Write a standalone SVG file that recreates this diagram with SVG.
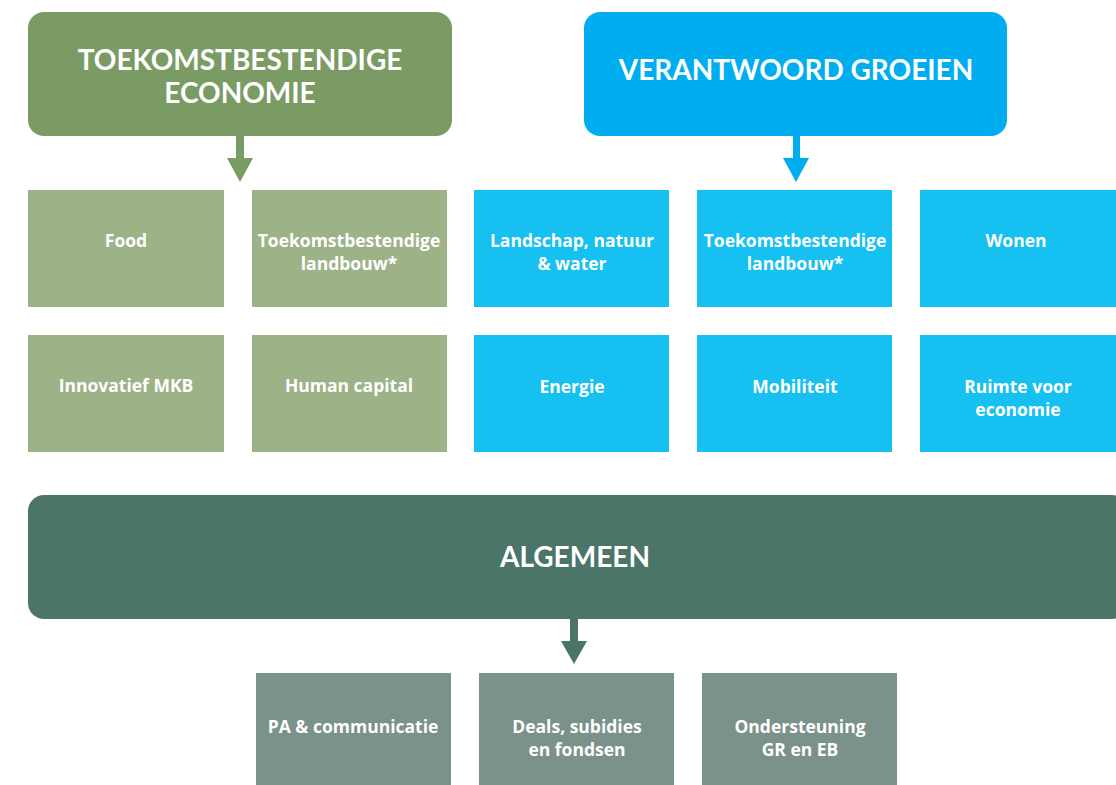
<svg xmlns="http://www.w3.org/2000/svg" width="1116" height="785" viewBox="0 0 1116 785">
<style>
text{font-family:Lato,"Open Sans","Liberation Sans",sans-serif;font-weight:700;fill:#fff;text-anchor:middle}
.h{font-size:28px}
.t{font-family:"Open Sans",Lato,"Liberation Sans",sans-serif;font-size:17.5px}
.g1{fill:#7A9B63}.g2{fill:#9DB287}.b1{fill:#00AEEF}.b2{fill:#16C0F1}.d1{fill:#4A7568}.d2{fill:#7A928A}
</style>
<rect width="1116" height="785" fill="#fff"/>
<g id="hdr-toekomst">
<rect class="g1" x="28" y="12" width="424" height="124" rx="16"/>
<text class="h" x="240" y="70">TOEKOMSTBESTENDIGE</text>
<text class="h" x="240" y="103">ECONOMIE</text>
</g>
<g id="hdr-verantwoord">
<rect class="b1" x="584" y="12" width="423" height="124" rx="16"/>
<text class="h" x="796" y="80">VERANTWOORD GROEIEN</text>
</g>
<g id="hdr-algemeen">
<rect class="d1" x="28" y="495" width="1100" height="124" rx="16"/>
<text class="h" x="575" y="567">ALGEMEEN</text>
</g>
<g id="connectors">
<rect class="g1" x="236" y="136" width="8" height="24"/>
<polygon class="g1" points="227,158 253,158 240,182"/>
<rect class="b1" x="793" y="136" width="7" height="24"/>
<polygon class="b1" points="783,158 809,158 796,182"/>
<rect class="d1" x="570" y="619" width="8" height="24"/>
<polygon class="d1" points="561,641 587,641 574,664"/>
</g>
<g id="food"><rect class="g2" x="28" y="190" width="196" height="117"/><text class="t" x="126" y="247">Food</text></g>
<g id="landbouw1"><rect class="g2" x="252" y="190" width="195" height="117"/><text class="t" x="349" y="247">Toekomstbestendige</text><text class="t" x="349" y="270">landbouw*</text></g>
<g id="landschap"><rect class="b2" x="474" y="190" width="195" height="117"/><text class="t" x="572" y="247">Landschap, natuur</text><text class="t" x="572" y="270">&amp; water</text></g>
<g id="landbouw2"><rect class="b2" x="697" y="190" width="195" height="117"/><text class="t" x="795" y="247">Toekomstbestendige</text><text class="t" x="795" y="270">landbouw*</text></g>
<g id="wonen"><rect class="b2" x="920" y="190" width="196" height="117"/><text class="t" x="1016" y="247">Wonen</text></g>
<g id="mkb"><rect class="g2" x="28" y="335" width="196" height="117"/><text class="t" x="126" y="392">Innovatief MKB</text></g>
<g id="human"><rect class="g2" x="252" y="335" width="195" height="117"/><text class="t" x="349" y="392">Human capital</text></g>
<g id="energie"><rect class="b2" x="474" y="335" width="195" height="117"/><text class="t" x="572" y="393">Energie</text></g>
<g id="mobiliteit"><rect class="b2" x="697" y="335" width="195" height="117"/><text class="t" x="795" y="393">Mobiliteit</text></g>
<g id="ruimte"><rect class="b2" x="920" y="335" width="196" height="117"/><text class="t" x="1018" y="393">Ruimte voor</text><text class="t" x="1018" y="416">economie</text></g>
<g id="pa"><rect class="d2" x="256" y="673" width="195" height="112"/><text class="t" x="353" y="733">PA &amp; communicatie</text></g>
<g id="deals"><rect class="d2" x="479" y="673" width="195" height="112"/><text class="t" x="577" y="733">Deals, subidies</text><text class="t" x="577" y="756">en fondsen</text></g>
<g id="onder"><rect class="d2" x="702" y="673" width="195" height="112"/><text class="t" x="800" y="733">Ondersteuning</text><text class="t" x="800" y="756">GR en EB</text></g>
</svg>
